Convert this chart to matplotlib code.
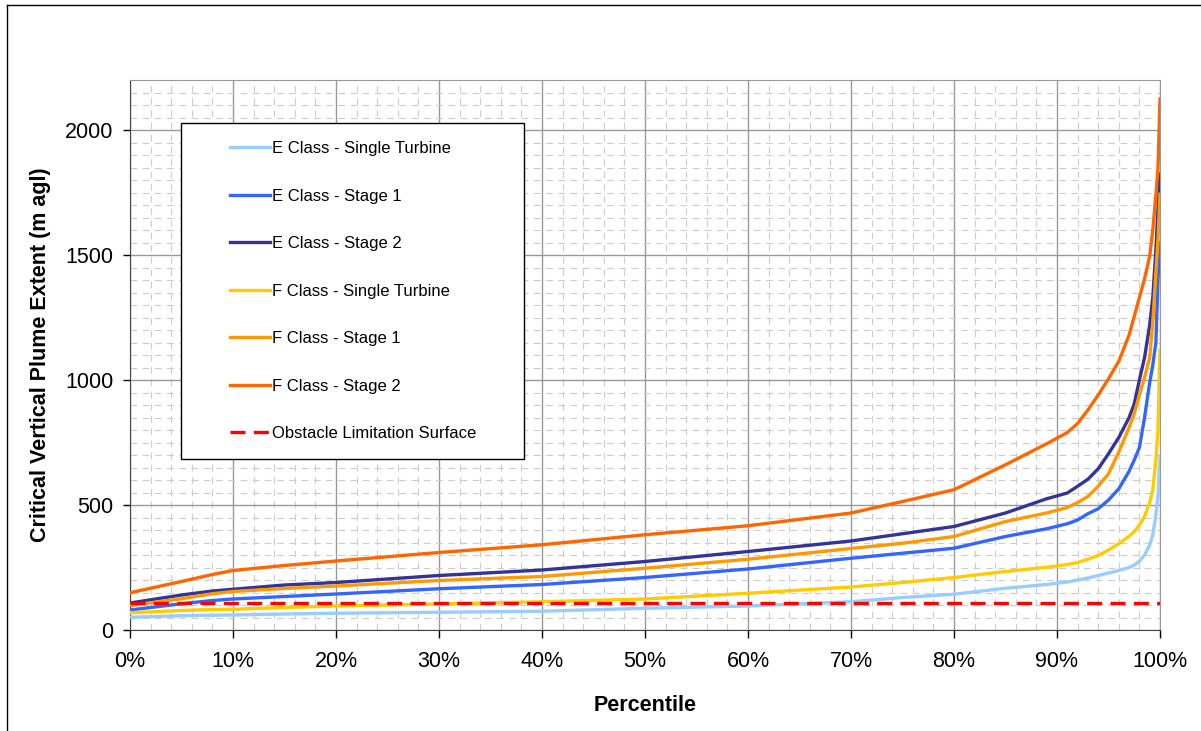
import numpy as np
import matplotlib.pyplot as plt
from matplotlib.patches import Rectangle
from matplotlib.lines import Line2D
from matplotlib.ticker import MultipleLocator, FuncFormatter

plt.rcParams['font.family'] = ['Liberation Sans', 'DejaVu Sans']

# percentile (%)
pct = [0, 5, 8, 10, 15, 20, 30, 40, 50, 60, 70, 75, 80, 85, 89, 91, 92, 93, 94,
       95, 96, 97, 97.5, 98, 98.5, 99, 99.3, 99.6, 99.8, 100]

e_single = [51, 57, 59, 60, 64, 67, 71, 75, 87, 96, 113, 130, 143, 167, 182, 192, 200, 208, 218,
            228, 238, 250, 260, 275, 300, 340, 381, 460, 534, 695]
e_stage1 = [80, 105, 118, 124, 134, 144, 165, 182, 210, 244, 287, 307, 327, 374, 405, 425, 440, 465, 485,
            520, 565, 635, 680, 730, 850, 990, 1060, 1150, 1400, 1550]
e_stage2 = [108, 140, 156, 163, 180, 190, 218, 240, 274, 314, 356, 385, 414, 468, 525, 548, 575, 603, 645,
            705, 770, 850, 905, 1000, 1090, 1220, 1330, 1520, 1680, 1824]
f_single = [69, 78, 82, 83, 90, 96, 104, 113, 124, 147, 172, 190, 210, 234, 251, 262, 270, 283, 298,
            320, 345, 375, 394, 420, 455, 510, 561, 681, 800, 1120]
f_stage1 = [98, 125, 145, 154, 166, 176, 198, 214, 247, 283, 326, 347, 374, 434, 468, 490, 510, 534, 575,
            625, 712, 810, 865, 940, 1010, 1090, 1230, 1430, 1560, 1743]
f_stage2 = [149, 194, 222, 238, 258, 276, 310, 341, 381, 417, 468, 514, 561, 661, 745, 790, 826, 880, 940,
            1005, 1075, 1180, 1255, 1330, 1405, 1496, 1600, 1740, 1844, 2124]
ols = 110  # obstacle limitation surface (m agl)

series = [
    ('E Class - Single Turbine', e_single, '#99CCFF'),
    ('E Class - Stage 1', e_stage1, '#3366FF'),
    ('E Class - Stage 2', e_stage2, '#333399'),
    ('F Class - Single Turbine', f_single, '#FFCC00'),
    ('F Class - Stage 1', f_stage1, '#FF9900'),
    ('F Class - Stage 2', f_stage2, '#FF6600'),
]

fig = plt.figure(figsize=(12.01, 7.31), dpi=100)
ax = fig.add_axes([130/1201, 1-630/731, 1030/1201, 550/731])

for name, vals, col in series:
    ax.plot(pct, vals, color=col, lw=2.4, label=name, zorder=3)
ax.plot([0, 100], [ols, ols], color='#FF0000', lw=2.4, ls=(0, (4.5, 2.5)),
        label='Obstacle Limitation Surface', zorder=3)

ax.set_xlim(0, 100)
ax.set_ylim(0, 2200)
ax.xaxis.set_major_locator(MultipleLocator(10))
ax.xaxis.set_minor_locator(MultipleLocator(2))
ax.yaxis.set_major_locator(MultipleLocator(500))
ax.yaxis.set_minor_locator(MultipleLocator(50))
ax.xaxis.set_major_formatter(FuncFormatter(lambda v, p: '%d%%' % v))
ax.grid(which='major', color='#999999', lw=1.0, zorder=1)
ax.grid(which='minor', color='#cccccc', lw=0.8, ls=(0, (6, 5)), zorder=0)
ax.set_axisbelow(True)
ax.tick_params(which='minor', length=0)
ax.tick_params(which='major', direction='out', labelsize=15.5, colors='black', width=1)
ax.tick_params(axis='x', length=6, pad=9)
ax.tick_params(axis='y', length=5, pad=7)
for s in ['top', 'right']:
    ax.spines[s].set_color('#999999')
for s in ['left', 'bottom']:
    ax.spines[s].set_color('#444444')

ax.set_ylabel('Critical Vertical Plume Extent (m agl)', fontsize=15.5, fontweight='bold')
ax.set_xlabel('Percentile', fontsize=15.5, fontweight='bold')
ax.yaxis.set_label_coords(-0.077, 0.5)
ax.xaxis.set_label_coords(0.5, -0.118)

# legend box
ax.add_patch(Rectangle((0.0495, 0.3109), 0.333, 0.6109, transform=ax.transAxes,
                       facecolor='white', edgecolor='black', lw=1.0, zorder=4))
leg = ax.legend(loc='upper left', bbox_to_anchor=(0.097, 0.889), frameon=False,
                fontsize=12, handlelength=2.4, handletextpad=0.15, labelspacing=1.95,
                borderpad=0, borderaxespad=0)
leg.set_zorder(5)

# outer chart border
fig.add_artist(Line2D([7/1201, 7/1201], [0, 1-5/731], color='black', lw=1))
fig.add_artist(Line2D([7/1201, 1], [1-5/731, 1-5/731], color='black', lw=1))

plt.savefig('out.png', dpi=100)
